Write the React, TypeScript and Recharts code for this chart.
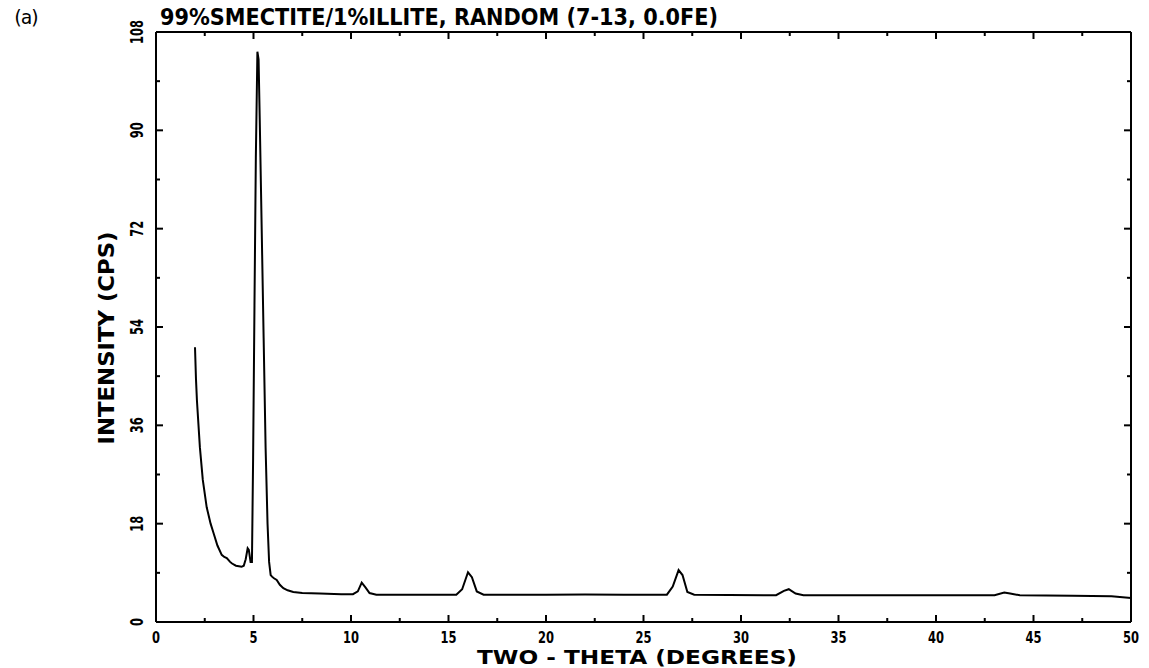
import { LineChart, Line, XAxis, YAxis } from "recharts";

// two-theta (degrees) and intensity (cps)
const twoTheta = [
  2.0, 2.05, 2.1, 2.25, 2.4, 2.6, 2.8, 2.95, 3.15, 3.37, 3.5, 3.63, 3.8, 3.9, 4.1, 4.39,
  4.5, 4.6, 4.7, 4.76, 4.85, 4.92, 4.98, 5.05, 5.12, 5.2, 5.26, 5.32, 5.43, 5.52, 5.62,
  5.72, 5.8, 5.88, 5.95, 6.05, 6.19, 6.35, 6.53, 6.75, 7.04, 7.5, 8.41, 9.5, 10.1, 10.35,
  10.55, 10.75, 10.95, 11.3, 13, 15.4, 15.7, 16.0, 16.2, 16.45, 16.8, 20, 22, 24, 26.2,
  26.5, 26.8, 27.0, 27.25, 27.6, 31.8, 32.2, 32.45, 32.8, 33.2, 38, 43.0, 43.5, 43.8,
  44.3, 47, 49, 50,
];
const intensity = [
  50.3, 44.5, 40.5, 32, 26, 21, 18, 16.3, 14, 12.3, 11.9, 11.7, 11, 10.7, 10.3, 10.1,
  10.3, 11.5, 13.5, 13.2, 11, 11, 30, 58, 85, 104.4, 103, 92, 70, 52, 32,
  18, 11, 8.6, 8.3, 8.0, 7.7, 6.8, 6.2, 5.8, 5.5, 5.3, 5.2, 5.1, 5.1, 5.6,
  7.2, 6.3, 5.3, 5.0, 5.0, 5.0, 6.0, 9.1, 8.2, 5.6, 5.0, 5.0, 5.05, 5.0, 5.0,
  6.5, 9.5, 8.6, 5.5, 5.0, 4.9, 5.7, 6.0, 5.2, 4.9, 4.9, 4.9, 5.4, 5.2,
  4.9, 4.8, 4.7, 4.4,
];

const xTicks = [0, 2.5, 5, 7.5, 10, 12.5, 15, 17.5, 20, 22.5, 25, 27.5, 30, 32.5, 35, 37.5, 40, 42.5, 45, 47.5, 50];
const yTicks = [0, 9, 18, 27, 36, 45, 54, 63, 72, 81, 90, 99, 108];

const title = "99%SMECTITE/1%ILLITE, RANDOM (7-13, 0.0FE)";
const xTitle = "TWO - THETA (DEGREES)";
const yTitle = "INTENSITY (CPS)";

const data = twoTheta.map((t, i) => ({ t, v: intensity[i] }));

const labelFont = "'DejaVu Sans', sans-serif";
const axisStyle = { stroke: "#000", strokeWidth: 2 };

function BottomTick({ x, y, payload }: any) {
  const major = payload.value % 5 === 0;
  const s = String(payload.value);
  return (
    <g>
      <line x1={x} y1={y} x2={x} y2={y - (major ? 7 : 4)} stroke="#000" strokeWidth={2} />
      {major && (
        <text x={x} y={y + 21} textAnchor="middle" textLength={s.length * 8} lengthAdjust="spacingAndGlyphs"
          fontFamily={labelFont} fontWeight={700} fontSize={16} fill="#000">
          {s}
        </text>
      )}
    </g>
  );
}

function TopTick({ x, y, payload }: any) {
  const major = payload.value % 5 === 0;
  return <line x1={x} y1={y} x2={x} y2={y + (major ? 7 : 4)} stroke="#000" strokeWidth={2} />;
}

function LeftTick({ x, y, payload }: any) {
  const major = payload.value % 18 === 0;
  const s = String(payload.value);
  const tx = x - 13;
  return (
    <g>
      <line x1={x} y1={y} x2={x + (major ? 7 : 4)} y2={y} stroke="#000" strokeWidth={2} />
      {major && (
        <text x={tx} y={y} transform={`rotate(-90, ${tx}, ${y})`} textAnchor="middle" textLength={s.length * 8}
          lengthAdjust="spacingAndGlyphs" fontFamily={labelFont} fontWeight={700} fontSize={17} fill="#000">
          {s}
        </text>
      )}
    </g>
  );
}

function RightTick({ x, y, payload }: any) {
  const major = payload.value % 18 === 0;
  return <line x1={x} y1={y} x2={x - (major ? 7 : 4)} y2={y} stroke="#000" strokeWidth={2} />;
}

export default function App() {
  return (
    <div style={{ position: "absolute", left: 0, top: 0, width: 1149, height: 668, background: "#fff" }}>
      <LineChart width={1149} height={668} data={data} margin={{ top: 31, right: 17, bottom: 45, left: 155 }}>
        <XAxis dataKey="t" type="number" domain={[0, 50]} ticks={xTicks} interval={0} height={1}
          tickSize={0} tickMargin={0} tick={<BottomTick />} axisLine={axisStyle} />
        <XAxis xAxisId="top" orientation="top" dataKey="t" type="number" domain={[0, 50]} ticks={xTicks} interval={0} height={1}
          tickSize={0} tickMargin={0} tick={<TopTick />} axisLine={axisStyle} />
        <YAxis type="number" domain={[0, 108]} ticks={yTicks} interval={0} width={1}
          tickSize={0} tickMargin={0} tick={<LeftTick />} axisLine={axisStyle} />
        <YAxis yAxisId="right" orientation="right" type="number" domain={[0, 108]} ticks={yTicks} interval={0} width={1}
          tickSize={0} tickMargin={0} tick={<RightTick />} axisLine={axisStyle} />
        <Line xAxisId="top" yAxisId="right" dataKey="v" stroke="none" dot={false} isAnimationActive={false} legendType="none" />
        <Line type="linear" dataKey="v" stroke="#000" strokeWidth={2} dot={false} isAnimationActive={false} />
        <text x={12} y={24} textLength={29} lengthAdjust="spacing" fontFamily="'DejaVu Sans Mono', monospace" fontSize={19} fill="#000">(a)</text>
        <text x={160} y={25} textLength={558} lengthAdjust="spacingAndGlyphs" fontFamily={labelFont} fontWeight={700} fontSize={23} fill="#000">
          {title}
        </text>
        <text x={637} y={664} textAnchor="middle" textLength={320} lengthAdjust="spacingAndGlyphs" fontFamily={labelFont} fontWeight={700} fontSize={20} fill="#000">
          {xTitle}
        </text>
        <text x={114} y={338} transform="rotate(-90, 114, 338)" textAnchor="middle" textLength={213} lengthAdjust="spacingAndGlyphs" fontFamily={labelFont} fontWeight={700} fontSize={21} fill="#000">
          {yTitle}
        </text>
      </LineChart>
    </div>
  );
}
